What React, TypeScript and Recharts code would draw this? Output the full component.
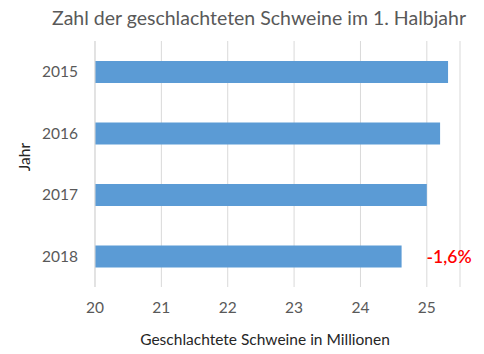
import React from "react";
import {
    BarChart,
    Bar,
    XAxis,
    YAxis,
    CartesianGrid,
    LabelList,
    Label,
} from "recharts";

const years = ["2015", "2016", "2017", "2018"];
const schweine = [25.32, 25.2, 25.0, 24.62];
const notes = ["", "", "", "-1,6%"];
const xTicks = [20, 21, 22, 23, 24, 25];

const data = years.map((year, i) => ({
    year,
    value: schweine[i],
    note: notes[i],
}));

const FONT = "Lato, 'Liberation Sans', sans-serif";

const renderNote = ({ x, y, width, height, value }: any) => {
    if (!value) return null;
    return (
        <text
            x={x + width + 25}
            y={y + height / 2}
            fill="#ff0000"
            fontSize={17.5}
            fontWeight={600}
            fontFamily={FONT}
            dominantBaseline="central"
        >
            {value}
        </text>
    );
};

const App: React.FC = () => {
    return (
        <div style={{ position: "relative", width: 484, height: 354, fontFamily: FONT }}>
            <style>{"body{margin:0}"}</style>
            <div
                style={{
                    position: "absolute",
                    top: 4,
                    left: 0,
                    width: 484,
                    paddingLeft: 34,
                    boxSizing: "border-box",
                    textAlign: "center",
                    fontSize: 19.5,
                    color: "#595959",
                    lineHeight: "28px",
                }}
            >
                Zahl der geschlachteten Schweine im 1. Halbjahr
            </div>
            <BarChart
                width={484}
                height={354}
                data={data}
                layout="vertical"
                margin={{ top: 41, right: 24, bottom: 0, left: 0 }}
            >
                <CartesianGrid horizontal={false} stroke="#d9d9d9" />
                <XAxis
                    type="number"
                    domain={[20, 25.5]}
                    ticks={xTicks}
                    allowDataOverflow
                    axisLine={false}
                    tickLine={false}
                    tickSize={0}
                    tickMargin={15}
                    height={67}
                    tick={{ fill: "#595959", fontSize: 15.5, fontFamily: FONT }}
                >
                    <Label
                        content={({ viewBox }: any) => (
                            <text
                                x={265}
                                y={viewBox.y + 58}
                                textAnchor="middle"
                                fill="#262626"
                                fontSize={15.5}
                                fontFamily={FONT}
                            >
                                Geschlachtete Schweine in Millionen
                            </text>
                        )}
                    />
                </XAxis>
                <YAxis
                    type="category"
                    dataKey="year"
                    width={95}
                    axisLine={{ stroke: "#d9d9d9" }}
                    tickLine={false}
                    tickSize={0}
                    tickMargin={17}
                    tick={{ fill: "#595959", fontSize: 15.5, fontFamily: FONT }}
                >
                    <Label
                        content={() => (
                            <text
                                x={30}
                                y={157}
                                transform="rotate(-90 30 157)"
                                textAnchor="middle"
                                fill="#262626"
                                fontSize={15.5}
                                fontFamily={FONT}
                            >
                                Jahr
                            </text>
                        )}
                    />
                </YAxis>
                <Bar dataKey="value" fill="#5b9bd5" barSize={22} isAnimationActive={false}>
                    <LabelList dataKey="note" content={renderNote} />
                </Bar>
            </BarChart>
        </div>
    );
};

export default App;
